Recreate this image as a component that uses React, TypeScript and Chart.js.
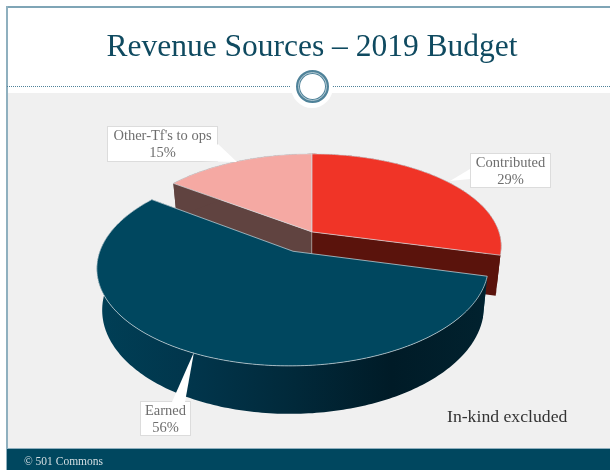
import React, { useEffect, useRef } from "react";
import { Chart, ArcElement, PieController, Title } from "chart.js";

const titleText = "Revenue Sources – 2019 Budget";
const noteText = "In-kind excluded";
const footerText = "© 501 Commons";

// Painted back to front, so the exploded front slice comes last.
const categories = ["Other-Tf's to ops", "Contributed", "Earned"];
const shares = [15, 29, 56];
const topColors = ["#f5a9a3", "#f03427", "#00475f"];
const wallPaints = ["#604340", "#5a130c", "#003f56 #01354b #01293a #001b27 #01222f"];
const sliceOffsets = [0, 0, 43];

const SERIF = "'Liberation Serif', serif";

// View of the tilted pie: perspective, vertical squash, wall height, far-plane shrink.
const PERSPECTIVE = 0.155;
const SQUASH = 0.482;
const DEPTH = 39;
const FLOOR_SHRINK = 0.975;

class Arc3D extends ArcElement {
  static id = "arc3d";
  static defaults = { wallPaint: "#000000" };

  draw(ctx: CanvasRenderingContext2D) {
    const { x, y, startAngle, endAngle, outerRadius } = (this as any).getProps([
      "x",
      "y",
      "startAngle",
      "endAngle",
      "outerRadius",
    ]);
    const options = (this as any).options;
    const mid = (startAngle + endAngle) / 2;
    const d = (options.offset || 0) / outerRadius;
    const ox = Math.cos(mid) * d;
    const oy = Math.sin(mid) * d;

    const project = (nx: number, ny: number, floor: boolean): [number, number] => {
      const s = 1 / (1 - PERSPECTIVE * ny);
      const px = outerRadius * nx * s * (floor ? FLOOR_SHRINK : 1);
      const py = outerRadius * SQUASH * ny * s + (floor ? DEPTH * s : 0);
      return [x + px, y + py];
    };
    const onRim = (a: number, floor: boolean) => project(ox + Math.cos(a), oy + Math.sin(a), floor);
    const apex = (floor: boolean) => project(ox, oy, floor);

    const angles: number[] = [];
    const steps = Math.max(2, Math.ceil(((endAngle - startAngle) * 180) / Math.PI));
    for (let i = 0; i <= steps; i++) angles.push(startAngle + ((endAngle - startAngle) * i) / steps);

    const stops = String(options.wallPaint).split(" ");
    let rimFill: string | CanvasGradient = stops[0];
    if (stops.length > 1) {
      const left = x - outerRadius * 1.15;
      const right = x + outerRadius * 0.95;
      const g = ctx.createLinearGradient(left, 0, right, 0);
      stops.forEach((c, i) => g.addColorStop(i / (stops.length - 1), c));
      rimFill = g;
    }

    ctx.save();
    // side walls
    for (const a of [startAngle, endAngle]) {
      ctx.beginPath();
      ctx.moveTo(...apex(false));
      ctx.lineTo(...onRim(a, false));
      ctx.lineTo(...onRim(a, true));
      ctx.lineTo(...apex(true));
      ctx.closePath();
      ctx.fillStyle = stops[0];
      ctx.fill();
      ctx.strokeStyle = "rgba(255,255,255,0.35)";
      ctx.lineWidth = 0.6;
      ctx.beginPath();
      ctx.moveTo(...apex(false));
      ctx.lineTo(...apex(true));
      ctx.stroke();
    }
    // outer rim
    ctx.beginPath();
    angles.forEach((a, i) => {
      const p = onRim(a, false);
      if (i === 0) ctx.moveTo(...p);
      else ctx.lineTo(...p);
    });
    [...angles].reverse().forEach((a) => ctx.lineTo(...onRim(a, true)));
    ctx.closePath();
    ctx.fillStyle = rimFill;
    ctx.fill();
    // top face
    ctx.beginPath();
    ctx.moveTo(...apex(false));
    angles.forEach((a) => ctx.lineTo(...onRim(a, false)));
    ctx.closePath();
    ctx.fillStyle = options.backgroundColor;
    ctx.fill();
    ctx.strokeStyle = options.borderColor;
    ctx.lineWidth = options.borderWidth;
    ctx.lineJoin = "round";
    ctx.stroke();
    ctx.restore();
  }
}

class Pie3DController extends PieController {
  static id = "pie3d";
  static defaults = { dataElementType: "arc3d" };
}

type Callout = {
  box: [number, number, number, number];
  leader: [number, number][];
};
// Callout furniture, in the same order as the categories.
const callouts: Callout[] = [
  { box: [107, 126, 111, 36], leader: [[201, 161], [218, 144], [237, 162]] },
  { box: [470, 153, 81, 35], leader: [[470, 169], [450, 181], [470, 179]] },
  { box: [140, 401, 51, 35], leader: [[172, 402], [194, 352], [185, 402]] },
];

const calloutPlugin = {
  id: "callouts",
  afterDatasetsDraw(chart: any) {
    const ctx: CanvasRenderingContext2D = chart.ctx;
    const labels: string[] = chart.data.labels;
    const values: number[] = chart.data.datasets[0].data;
    const total = values.reduce((a, b) => a + b, 0);
    ctx.save();
    callouts.forEach((c, i) => {
      const [bx, by, bw, bh] = c.box;
      ctx.fillStyle = "#ffffff";
      ctx.strokeStyle = "#dcdcdc";
      ctx.lineWidth = 1;
      ctx.fillRect(bx, by, bw, bh);
      ctx.strokeRect(bx + 0.5, by + 0.5, bw - 1, bh - 1);
      ctx.beginPath();
      c.leader.forEach(([lx, ly], j) => (j ? ctx.lineTo(lx, ly) : ctx.moveTo(lx, ly)));
      ctx.fill();
      ctx.fillStyle = "#6e6e6e";
      ctx.font = `14.5px ${SERIF}`;
      ctx.textAlign = "center";
      ctx.textBaseline = "middle";
      const cx = bx + bw / 2;
      ctx.fillText(labels[i], cx, by + 10);
      ctx.fillText(`${Math.round((values[i] / total) * 100)}%`, cx, by + 27.5);
    });
    ctx.restore();
  },
};

export default function App() {
  const canvasRef = useRef<HTMLCanvasElement | null>(null);

  useEffect(() => {
    Chart.register(ArcElement, PieController, Title, Arc3D, Pie3DController);
    const chart = new Chart(canvasRef.current!, {
      type: "pie3d" as any,
      data: {
        labels: categories,
        datasets: [
          {
            data: shares,
            backgroundColor: topColors,
            borderColor: "#d3dde1",
            borderWidth: 0.7,
            offset: sliceOffsets,
            wallPaint: wallPaints,
          } as any,
        ],
      },
      options: {
        responsive: false,
        animation: false,
        rotation: (-shares[0] / 100) * 360,
        radius: 187,
        layout: { padding: { left: 14, right: 0, top: 0, bottom: 76 } },
        events: [],
        plugins: {
          legend: { display: false },
          tooltip: { enabled: false },
          title: {
            display: true,
            text: titleText,
            color: "#0f4a60",
            font: { family: SERIF, size: 31.5, weight: "normal" },
            padding: { top: 29, bottom: 3 },
          },
        },
      } as any,
      plugins: [calloutPlugin],
    });
    return () => chart.destroy();
  }, []);

  const abs = (s: React.CSSProperties): React.CSSProperties => ({ position: "absolute", ...s });

  return (
    <div style={{ position: "fixed", left: 0, top: 0, width: 610, height: 470, background: "#fff", overflow: "hidden" }}>
      <div style={abs({ left: 7, top: 93, width: 603, height: 356, background: "#f0f0f0" })} />
      <div style={abs({ left: 6, top: 6, width: 604, height: 2, background: "#7fa5b6" })} />
      <div style={abs({ left: 6, top: 6, width: 1.5, height: 464, background: "#8fb0bf" })} />
      <div style={abs({ left: 7, top: 86, width: 285, borderTop: "1px dotted #4f8299" })} />
      <div style={abs({ left: 332, top: 86, width: 278, borderTop: "1px dotted #4f8299" })} />
      <div style={abs({ left: 291, top: 66, width: 42, height: 42, borderRadius: "50%", background: "#fff" })} />
      <div
        style={abs({
          left: 296,
          top: 70,
          width: 33,
          height: 33,
          boxSizing: "border-box",
          borderRadius: "50%",
          border: "4px solid #4f8299",
        })}
      />
      <div
        style={abs({
          left: 298,
          top: 72,
          width: 29,
          height: 29,
          boxSizing: "border-box",
          borderRadius: "50%",
          border: "1px solid #b7cdd6",
        })}
      />
      <div style={abs({ left: 7, top: 448, width: 603, height: 22, background: "#00475f", borderTop: "1px solid #8fb0bf", boxSizing: "border-box" })} />
      <canvas ref={canvasRef} width={610} height={470} style={abs({ left: 0, top: 0, display: "block" })} />
      <div style={abs({ left: 447, top: 406, fontFamily: SERIF, fontSize: 17.7, lineHeight: "20px", color: "#333", whiteSpace: "nowrap" })}>
        {noteText}
      </div>
      <div style={abs({ left: 24, top: 454, fontFamily: SERIF, fontSize: 11.5, lineHeight: "14px", color: "#d5dfe3", whiteSpace: "nowrap" })}>
        {footerText}
      </div>
    </div>
  );
}
